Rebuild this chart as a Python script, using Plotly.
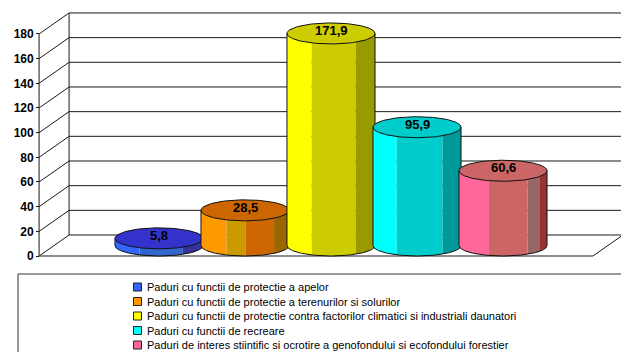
import numpy as np
import plotly.graph_objects as go

# ---- data -------------------------------------------------------------
series_names = [
    "Paduri cu functii de protectie a apelor",
    "Paduri cu functii de protectie a terenurilor si solurilor",
    "Paduri cu functii de protectie contra factorilor climatici si industriali daunatori",
    "Paduri cu functii de recreare",
    "Paduri de interes stiintific si ocrotire a genofondului si ecofondului forestier",
]
values = [5.8, 28.5, 171.9, 95.9, 60.6]
tick_values = [0, 20, 40, 60, 80, 100, 120, 140, 160, 180]

# ---- styling ----------------------------------------------------------
side_colors = [
    ["#3366FF", "#3366CC", "#333399"],
    ["#FF9900", "#CC9900", "#CC6600", "#996600"],
    ["#FFFF00", "#CCCC00", "#999900"],
    ["#00FFFF", "#00CCCC", "#009999"],
    ["#FF6699", "#CC6666", "#996666", "#993333"],
]
side_breaks = [
    [0, 0.28, 0.77, 1],
    [0, 0.29, 0.51, 0.83, 1],
    [0, 0.28, 0.78, 1],
    [0, 0.27, 0.79, 1],
    [0, 0.34, 0.78, 0.92, 1],
]
top_colors = ["#3333CC", "#CC6600", "#CCCC00", "#00CCCC", "#CC6666"]
legend_colors = ["#3366FF", "#FF9900", "#FFFF00", "#00FFFF", "#FF6699"]

W, H = 621, 352
PX_SLOT = 86        # pixels per series slot along x
PX_UNIT = 1.2335    # pixels per value unit along y
Y0_PX = 256         # pixel row of the front floor edge
XC_PX = 316         # pixel column of the cluster centre (front plane)
DX = 30 / PX_SLOT   # oblique depth offset, x (slots)
DY = 21 / PX_UNIT   # oblique depth offset, y (value units)
GAP = 0.72          # floor margin beside the cluster (slots)
RX = 0.512          # cylinder radius (slots)
RY = DY / 2         # cylinder ellipse half-height (value units)

n = len(values)
cx = (n - 1) / 2
x_range = [cx - XC_PX / PX_SLOT, cx + (W - XC_PX) / PX_SLOT]
y_range = [-(H - Y0_PX) / PX_UNIT, Y0_PX / PX_UNIT]
XF = cx - (n / 2 + GAP)     # left edge of the floor, front
XR = cx + (n / 2 + GAP)     # right edge of the floor, front
ymax = tick_values[-1]

fig = go.Figure()

def add_line(xs, ys, color="#1a1a1a", width=1):
    fig.add_trace(go.Scatter(x=xs, y=ys, mode="lines",
                             line=dict(color=color, width=width),
                             hoverinfo="skip", showlegend=False))

# ---- walls and floor --------------------------------------------------
wx, wy = [], []
for t in tick_values:
    # side wall diagonal and back wall gridline
    wx += [XF, XF + DX, XR + DX + 1, None]
    wy += [t, t + DY, t + DY, None]
wx += [XF, XF, None, XF + DX, XF + DX, None, XF, XR, XR + DX, None]
wy += [0, ymax, None, DY, ymax + DY, None, 0, 0, DY, None]
add_line(wx, wy)

# ---- cylinders --------------------------------------------------------
def bottom_arc(xc, x_from, x_to, npts=40):
    xs = np.linspace(x_from, x_to, npts)
    u = np.clip((xs - xc) / RX, -1, 1)
    return xs, RY - RY * np.sqrt(1 - u ** 2)

for i, v in enumerate(values):
    xc = i + DX / 2
    y_top = v + DY / 2
    brk = side_breaks[i]
    for k, col in enumerate(side_colors[i]):
        xa = xc - RX + 2 * RX * brk[k]
        xb = xc - RX + 2 * RX * brk[k + 1]
        ax, ay = bottom_arc(xc, xa, xb)
        px = list(ax) + [xb, xa, xa]
        py = list(ay) + [y_top, y_top, ay[0]]
        fig.add_trace(go.Scatter(x=px, y=py, mode="lines", fill="toself",
                                 fillcolor=col, line=dict(width=0, color=col),
                                 hoverinfo="skip", showlegend=False))
    th = np.linspace(0, 2 * np.pi, 120)
    fig.add_trace(go.Scatter(x=xc + RX * np.cos(th), y=y_top + RY * np.sin(th),
                             mode="lines", fill="toself", fillcolor=top_colors[i],
                             line=dict(color="#111111", width=1),
                             hoverinfo="skip", showlegend=False))
    ax, ay = bottom_arc(xc, xc - RX, xc + RX, 80)
    add_line([xc - RX] + list(ax) + [xc + RX], [y_top] + list(ay) + [y_top],
             color="#111111")
    fig.add_annotation(x=xc, y=y_top, yshift=3, showarrow=False,
                       text=f"{v:.1f}".replace(".", ","),
                       font=dict(family="Arial, Liberation Sans", size=13,
                                 color="black", weight="bold"))

# ---- legend box -------------------------------------------------------
LEG_TOP = 274
ROW0, ROW_STEP = 287, 14.5
fig.add_shape(type="rect", xref="paper", yref="paper",
              x0=18 / W, x1=1.02, y0=-0.02, y1=1 - LEG_TOP / H,
              line=dict(color="#333333", width=1), fillcolor="rgba(0,0,0,0)")
for i, name in enumerate(series_names):
    cy = ROW0 + ROW_STEP * i
    fig.add_shape(type="rect", xref="paper", yref="paper",
                  x0=133.5 / W, x1=141.5 / W,
                  y0=1 - (cy + 4) / H, y1=1 - (cy - 4) / H,
                  fillcolor=legend_colors[i], line=dict(color="#222222", width=1))
    fig.add_annotation(xref="paper", yref="paper", x=145 / W, y=1 - cy / H,
                       xanchor="left", yanchor="middle", showarrow=False,
                       text=name,
                       font=dict(family="Liberation Sans Narrow, Arial Narrow, Liberation Sans, Arial",
                                 size=11, color="black"))

fig.update_layout(
    width=W, height=H,
    margin=dict(l=0, r=0, t=0, b=0),
    paper_bgcolor="white", plot_bgcolor="white",
    showlegend=False, hovermode=False,
    xaxis=dict(range=x_range, visible=False, fixedrange=True),
    yaxis=dict(range=y_range, anchor="free",
               position=(XC_PX + (XF - cx) * PX_SLOT) / W,
               tickmode="array", tickvals=tick_values,
               ticks="outside", ticklen=3, tickcolor="#1a1a1a",
               showgrid=False, zeroline=False, showline=False,
               tickfont=dict(family="Arial, Liberation Sans", size=12,
                             color="black", weight="bold"),
               fixedrange=True),
)

fig.write_html("out.html")
